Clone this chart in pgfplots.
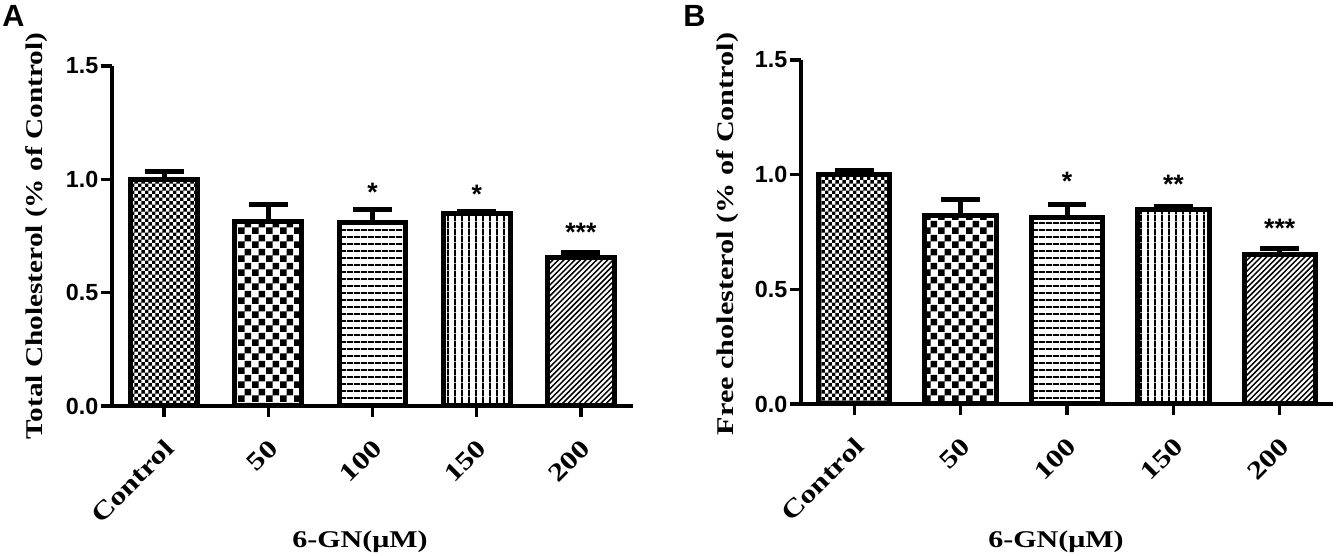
\documentclass[border=0pt]{standalone}
\usepackage{graphicx}
\usepackage{fontspec}
\setmainfont{Liberation Serif}
\newfontfamily\arial{Liberation Sans}
\usepackage{pgfplots}
\pgfplotsset{compat=1.18}
\usetikzlibrary{patterns}

\pgfdeclarepatternformonly{finecheck}{\pgfpointorigin}{\pgfpoint{5.2pt}{5.2pt}}{\pgfpoint{5.2pt}{5.2pt}}{%
  \pgfpathrectangle{\pgfpointorigin}{\pgfpoint{2.6pt}{2.6pt}}%
  \pgfpathrectangle{\pgfpoint{2.6pt}{2.6pt}}{\pgfpoint{2.6pt}{2.6pt}}%
  \pgfusepath{fill}}
\pgfdeclarepatternformonly{coarsecheck}{\pgfpointorigin}{\pgfpoint{10.5pt}{10.5pt}}{\pgfpoint{10.5pt}{10.5pt}}{%
  \pgfpathrectangle{\pgfpointorigin}{\pgfpoint{5.25pt}{5.25pt}}%
  \pgfpathrectangle{\pgfpoint{5.25pt}{5.25pt}}{\pgfpoint{5.25pt}{5.25pt}}%
  \pgfusepath{fill}}
\pgfdeclarepatternformonly{hl}{\pgfpointorigin}{\pgfpoint{4.9pt}{4.9pt}}{\pgfpoint{4.9pt}{4.9pt}}{%
  \pgfpathrectangle{\pgfpointorigin}{\pgfpoint{4.9pt}{1.5pt}}\pgfusepath{fill}}
\pgfdeclarepatternformonly{vl}{\pgfpointorigin}{\pgfpoint{5pt}{5pt}}{\pgfpoint{5pt}{5pt}}{%
  \pgfpathrectangle{\pgfpointorigin}{\pgfpoint{1.5pt}{5pt}}\pgfusepath{fill}}
\pgfdeclarepatternformonly{ne}{\pgfpoint{-1pt}{-1pt}}{\pgfpoint{5.1pt}{5.1pt}}{\pgfpoint{4.1pt}{4.1pt}}{%
  \pgfsetlinewidth{1.1pt}%
  \pgfpathmoveto{\pgfpointorigin}\pgfpathlineto{\pgfpoint{4.2pt}{4.2pt}}\pgfusepath{stroke}}

\newcommand{\sx}[1]{\scalebox{1.25}[1]{#1}}

\pgfplotsset{
  mybar/.style={
    scale only axis,
    xmin=-0.5, xmax=4.5, ymin=0, ymax=1.5,
    axis x line*=bottom, axis y line*=left,
    axis line style={line width=2.5pt, -},
    xtick={0,1,2,3,4},
    xticklabels={\sx{Control},\sx{50},\sx{100},\sx{150},\sx{200}},
    ytick={0,0.5,1,1.5}, yticklabels={0.0,0.5,1.0,1.5},
    tick align=outside, major tick length=8.5pt,
    tick style={line width=2.5pt, black},
    yticklabel style={font=\arial\bfseries\fontsize{17.5}{19}\selectfont, inner sep=0pt, xshift=-1.5pt},
    xticklabel style={xshift=4pt, yshift=-20pt, rotate=45, anchor=east, inner sep=0pt, font=\bfseries\fontsize{19}{21}\selectfont},
    clip=false,
  },
  eb/.style={
    ybar, bar shift=0pt, draw=black, line width=3.75pt,
    /pgfplots/error bars/y dir=plus, /pgfplots/error bars/y explicit,
    /pgfplots/error bars/error bar style={line width=3.75pt, black},
    /pgfplots/error bars/error mark options={line width=3.75pt, mark size=14.6pt, rotate=90, black},
  },
}

\begin{document}
\begin{tikzpicture}
\useasboundingbox (0,0) rectangle (1004.25pt,417pt);

% ---------- Panel A ----------
\begin{axis}[mybar, at={(84pt,112.5pt)}, anchor=south west,
  width=390.75pt, height=255pt, bar width=0.64]
\addplot[eb, pattern=finecheck] coordinates {(0,1.0) +- (0,0.033)};
\addplot[eb, pattern=coarsecheck] coordinates {(1,0.815) +- (0,0.075)};
\addplot[eb, pattern=hl] coordinates {(2,0.81) +- (0,0.058)};
\addplot[eb, pattern=vl] coordinates {(3,0.848) +- (0,0.012)};
\addplot[eb, pattern=ne] coordinates {(4,0.654) +- (0,0.024)};
\node[anchor=north, inner sep=0pt, font=\arial\bfseries\fontsize{20}{22}\selectfont] at (axis cs:2,0.985) {*};
\node[anchor=north, inner sep=0pt, font=\arial\bfseries\fontsize{20}{22}\selectfont] at (axis cs:3,0.974) {*};
\node[anchor=north, inner sep=0pt, font=\arial\bfseries\fontsize{20}{22}\selectfont] at (axis cs:4,0.808) {***};
\end{axis}

% ---------- Panel B ----------
\begin{axis}[mybar, at={(600.75pt,114pt)}, anchor=south west,
  width=399pt, height=258pt, bar width=0.67]
\addplot[eb, pattern=finecheck] coordinates {(0,1.0) +- (0,0.02)};
\addplot[eb, pattern=coarsecheck] coordinates {(1,0.82) +- (0,0.07)};
\addplot[eb, pattern=hl] coordinates {(2,0.813) +- (0,0.055)};
\addplot[eb, pattern=vl] coordinates {(3,0.85) +- (0,0.011)};
\addplot[eb, pattern=ne] coordinates {(4,0.654) +- (0,0.022)};
\node[anchor=north, inner sep=0pt, font=\arial\bfseries\fontsize{20}{22}\selectfont] at (axis cs:2,1.012) {*};
\node[anchor=north, inner sep=0pt, font=\arial\bfseries\fontsize{20}{22}\selectfont] at (axis cs:3,1.001) {**};
\node[anchor=north, inner sep=0pt, font=\arial\bfseries\fontsize{20}{22}\selectfont] at (axis cs:4,0.809) {***};
\end{axis}

% ---------- labels ----------
\node[anchor=north west, inner sep=0pt, font=\arial\bfseries\fontsize{23}{25}\selectfont] at (1.5pt,413.25pt) {A};
\node[anchor=north west, inner sep=0pt, font=\arial\bfseries\fontsize{23}{25}\selectfont] at (512.25pt,413.25pt) {B};
\node[rotate=90, inner sep=0pt, font=\bfseries\fontsize{18}{20}\selectfont] at (27.75pt,240pt) {\scalebox{1.22}[1]{Total Cholesterol (\% of Control)}};
\node[rotate=90, inner sep=0pt, font=\bfseries\fontsize{18}{20}\selectfont] at (546pt,241.5pt) {\scalebox{1.258}[1]{Free cholesterol (\% of Control)}};
\node[inner sep=0pt, font=\bfseries\fontsize{18}{20}\selectfont] at (270pt,10.5pt) {\scalebox{1.25}[1]{6-GN(μM)}};
\node[inner sep=0pt, font=\bfseries\fontsize{18}{20}\selectfont] at (792pt,10.5pt) {\scalebox{1.25}[1]{6-GN(μM)}};
\end{tikzpicture}
\end{document}
